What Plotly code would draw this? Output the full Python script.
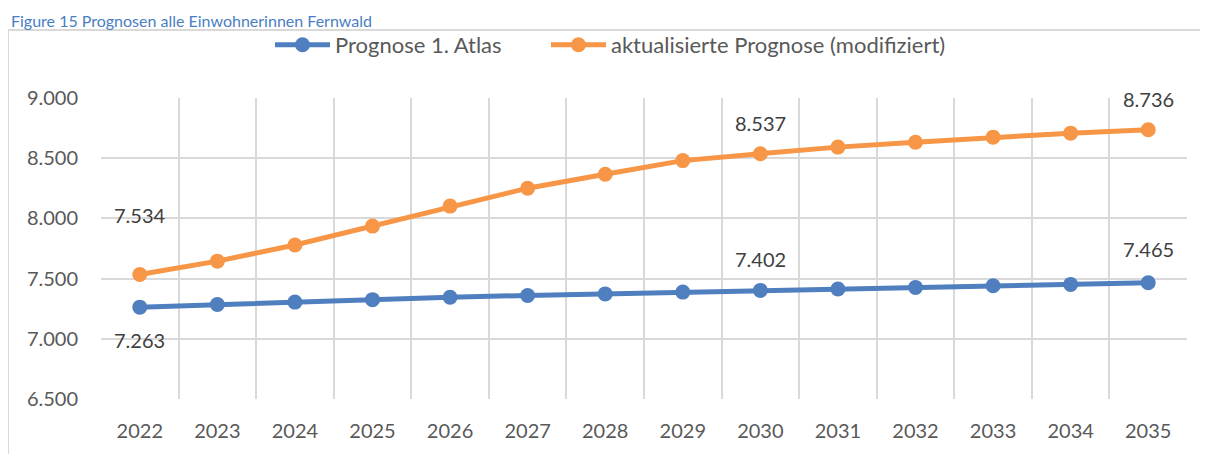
import plotly.graph_objects as go

years = ["2022", "2023", "2024", "2025", "2026", "2027", "2028",
         "2029", "2030", "2031", "2032", "2033", "2034", "2035"]
prognose_atlas = [7263, 7285, 7305, 7325, 7345, 7360, 7373,
                  7388, 7402, 7414, 7427, 7440, 7452, 7465]
prognose_aktuell = [7534, 7645, 7779, 7936, 8102, 8251, 8367,
                    8480, 8537, 8592, 8633, 8675, 8708, 8736]
y_ticks = [6500, 7000, 7500, 8000, 8500, 9000]
y_tick_labels = ["6.500", "7.000", "7.500", "8.000", "8.500", "9.000"]
caption = "Figure 15 Prognosen alle Einwohnerinnen Fernwald"

BLUE = "#4F7FBE"
ORANGE = "#F79646"
TEXT = "#595959"
GRID = "#D9D9D9"
FONT = "Lato"

W, H = 1208, 454
ML, MR, MT, MB = 93, 29, 90, 63
PW, PH = W - ML - MR, H - MT - MB

def px_x(x):   # figure pixel -> paper x
    return (x - ML) / PW

def px_y(y):   # figure pixel (from top) -> paper y
    return (H - MB - y) / PH

def fmt(v):
    return f"{v:,}".replace(",", ".")

x_idx = list(range(len(years)))

fig = go.Figure()
fig.add_trace(go.Scatter(
    x=x_idx, y=prognose_atlas, name="Prognose 1. Atlas",
    mode="lines+markers", legend="legend",
    line=dict(color=BLUE, width=5),
    marker=dict(color=BLUE, size=15),
))
fig.add_trace(go.Scatter(
    x=x_idx, y=prognose_aktuell, name="aktualisierte Prognose (modifiziert)",
    mode="lines+markers", legend="legend2",
    line=dict(color=ORANGE, width=5),
    marker=dict(color=ORANGE, size=15),
))

# data labels
label_specs = [
    (prognose_atlas, 0, -33),
    (prognose_atlas, 8, 31),
    (prognose_atlas, 13, 34),
    (prognose_aktuell, 0, 60),
    (prognose_aktuell, 8, 31),
    (prognose_aktuell, 13, 31),
]
for series, idx, shift in label_specs:
    fig.add_annotation(
        x=x_idx[idx], y=series[idx], text=fmt(series[idx]),
        showarrow=False, yshift=shift,
        font=dict(family=FONT, size=20, color="#404040"),
    )

# caption
fig.add_annotation(
    x=px_x(1), y=px_y(1), xref="paper", yref="paper",
    xanchor="left", yanchor="top",
    text=caption, showarrow=False,
    font=dict(family=FONT, size=16, color="#4A7EC2"),
)

# outer chart frame
fig.add_shape(
    type="rect", xref="paper", yref="paper",
    x0=px_x(0), x1=px_x(W + 40), y0=px_y(H + 40), y1=px_y(22),
    line=dict(color=GRID, width=2), layer="below",
)

legend_common = dict(
    orientation="h", xref="container", yref="container",
    yanchor="middle", xanchor="left", y=1 - 37 / H,
    font=dict(family=FONT, size=22, color=TEXT),
    itemwidth=55, bgcolor="rgba(0,0,0,0)",
)

fig.update_layout(
    width=W, height=H,
    margin=dict(l=ML, r=MR, t=MT, b=MB, autoexpand=False),
    paper_bgcolor="white", plot_bgcolor="white",
    font=dict(family=FONT, size=20, color=TEXT),
    showlegend=True,
    legend=dict(x=262 / W, **legend_common),
    legend2=dict(x=538 / W, **legend_common),
)
fig.update_xaxes(
    range=[-0.5, 13.5], tickvals=x_idx, ticktext=years, tickangle=0,
    showgrid=False, showline=False, zeroline=False,
    minor=dict(tickvals=[i - 0.5 for i in range(len(years) + 1)],
               showgrid=True, gridcolor=GRID, gridwidth=2, ticks=""),
    ticks="", ticklabelstandoff=18,
    tickfont=dict(family=FONT, size=20, color=TEXT),
)
fig.update_yaxes(
    range=[6500, 9000], tickvals=y_ticks, ticktext=y_tick_labels,
    showgrid=True, gridcolor=GRID, gridwidth=2,
    showline=False, zeroline=False,
    ticks="", ticklabelstandoff=22,
    tickfont=dict(family=FONT, size=20, color=TEXT),
)

fig.write_html("out.html")
